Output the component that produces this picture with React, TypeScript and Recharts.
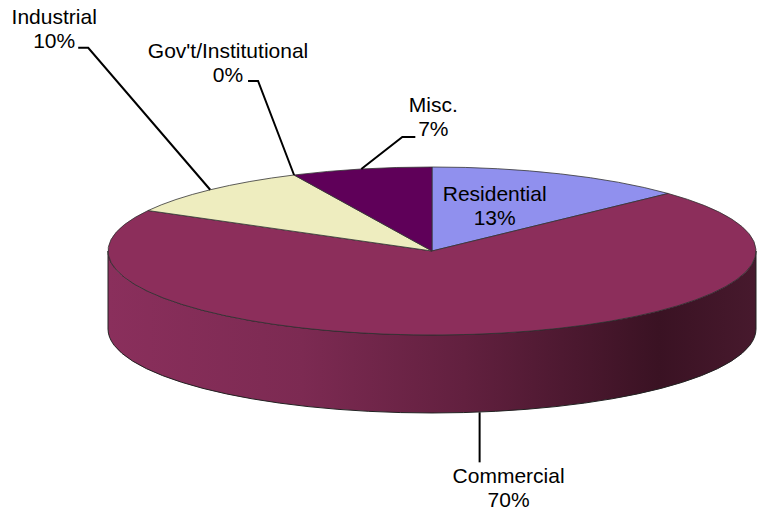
import React from 'react';
import { PieChart, Pie, Cell } from 'recharts';

const categories = ['Residential', 'Commercial', 'Industrial', "Gov't/Institutional", 'Misc.'];
const shares = [13, 70, 10, 0, 7];
const sliceColors = ['#9090EE', '#8C2E5B', '#EEEDBF', '#C8C8F0', '#5F0059'];

const data = categories.map((name, i) => ({ name, value: shares[i] }));

const TILT = 84 / 324;
const DEPTH = 78;
const RAD = Math.PI / 180;
const FONT = '"Liberation Sans", Arial, sans-serif';

// label layout offsets relative to the slice's rim anchor
const LABEL_LAYOUT: Record<string, any> = {
  Residential: { text: [-66, 27], line: null },
  Commercial: { text: [36, 71], line: [[7, 0], [7, 50]], bottom: true },
  Industrial: { text: [-156, -166], line: [[0, 0], [-122, -142], [-132, -142]] },
  "Gov't/Institutional": { text: [-66, -117], line: [[0, 0], [-36, -94], [-46, -94]] },
  'Misc.': { text: [72, -57], line: [[0, 0], [41, -32], [54, -32]] },
};

function pt(cx: number, cy: number, rx: number, ry: number, a: number) {
  return [cx + rx * Math.cos(a * RAD), cy - ry * Math.sin(a * RAD)];
}

function SliceShape(props: any) {
  const { cx, cy, outerRadius, startAngle, endAngle, fill } = props;
  const rx = outerRadius;
  const ry = outerRadius * TILT;
  const hi0 = Math.max(startAngle, endAngle);
  const lo0 = Math.min(startAngle, endAngle);
  if (hi0 - lo0 < 1e-6) return <g />;
  const [x1, y1] = pt(cx, cy, rx, ry, hi0);
  const [x2, y2] = pt(cx, cy, rx, ry, lo0);
  const large = hi0 - lo0 > 180 ? 1 : 0;
  const top = `M${cx},${cy} L${x1},${y1} A${rx},${ry} 0 ${large} 1 ${x2},${y2} Z`;
  const sides: string[] = [];
  for (const k of [0, -360, 360]) {
    const lo = Math.max(lo0, k - 180);
    const hi = Math.min(hi0, k);
    if (hi > lo) {
      const [ax, ay] = pt(cx, cy, rx, ry, hi);
      const [bx, by] = pt(cx, cy, rx, ry, lo);
      const lg = hi - lo > 180 ? 1 : 0;
      sides.push(
        `M${ax},${ay} A${rx},${ry} 0 ${lg} 1 ${bx},${by} L${bx},${by + DEPTH} A${rx},${ry} 0 ${lg} 0 ${ax},${ay + DEPTH} Z`
      );
    }
  }
  return (
    <g>
      <defs>
        <linearGradient id="sideGrad" x1="0" y1="0" x2="1" y2="0">
          <stop offset="0%" stopColor="#8A2F5C" />
          <stop offset="30%" stopColor="#7C2A52" />
          <stop offset="55%" stopColor="#62203F" />
          <stop offset="85%" stopColor="#3A1223" />
          <stop offset="100%" stopColor="#47192D" />
        </linearGradient>
      </defs>
      {sides.map((d, i) => (
        <path key={i} d={d} fill="url(#sideGrad)" stroke="#222" strokeWidth={1} />
      ))}
      <path d={top} fill={fill} stroke="#333" strokeWidth={0.8} strokeLinejoin="round" />
    </g>
  );
}

function renderLabel(p: any) {
  const { cx, cy, midAngle, outerRadius, name, value } = p;
  const cfg = LABEL_LAYOUT[name];
  if (!cfg) return null;
  const rx = outerRadius;
  const ry = outerRadius * TILT;
  let [ax, ay] = pt(cx, cy, rx, ry, midAngle);
  if (cfg.bottom) ay += DEPTH;
  const tx = ax + cfg.text[0];
  const ty = ay + cfg.text[1];
  return (
    <g>
      {cfg.line && (
        <polyline
          points={cfg.line.map((q: number[]) => `${ax + q[0]},${ay + q[1]}`).join(' ')}
          fill="none"
          stroke="#000"
          strokeWidth={2}
        />
      )}
      <text x={tx} y={ty} textAnchor="middle" fontFamily={FONT} fontSize={21} fill="#000">
        {name}
      </text>
      <text x={tx} y={ty + 24} textAnchor="middle" fontFamily={FONT} fontSize={21} fill="#000">
        {`${value}%`}
      </text>
    </g>
  );
}

export default function App() {
  return (
    <div style={{ position: 'absolute', left: 0, top: 0, width: 757, height: 514, background: '#fff' }}>
      <PieChart width={757} height={514} margin={{ top: 0, right: 0, bottom: 0, left: 0 }}>
        <Pie
          data={data}
          dataKey="value"
          nameKey="name"
          cx={432}
          cy={251}
          outerRadius={324}
          startAngle={90}
          endAngle={-270}
          isAnimationActive={false}
          shape={SliceShape}
          label={renderLabel}
          labelLine={false}
        >
          {data.map((d, i) => (
            <Cell key={d.name} fill={sliceColors[i]} />
          ))}
        </Pie>
      </PieChart>
    </div>
  );
}
